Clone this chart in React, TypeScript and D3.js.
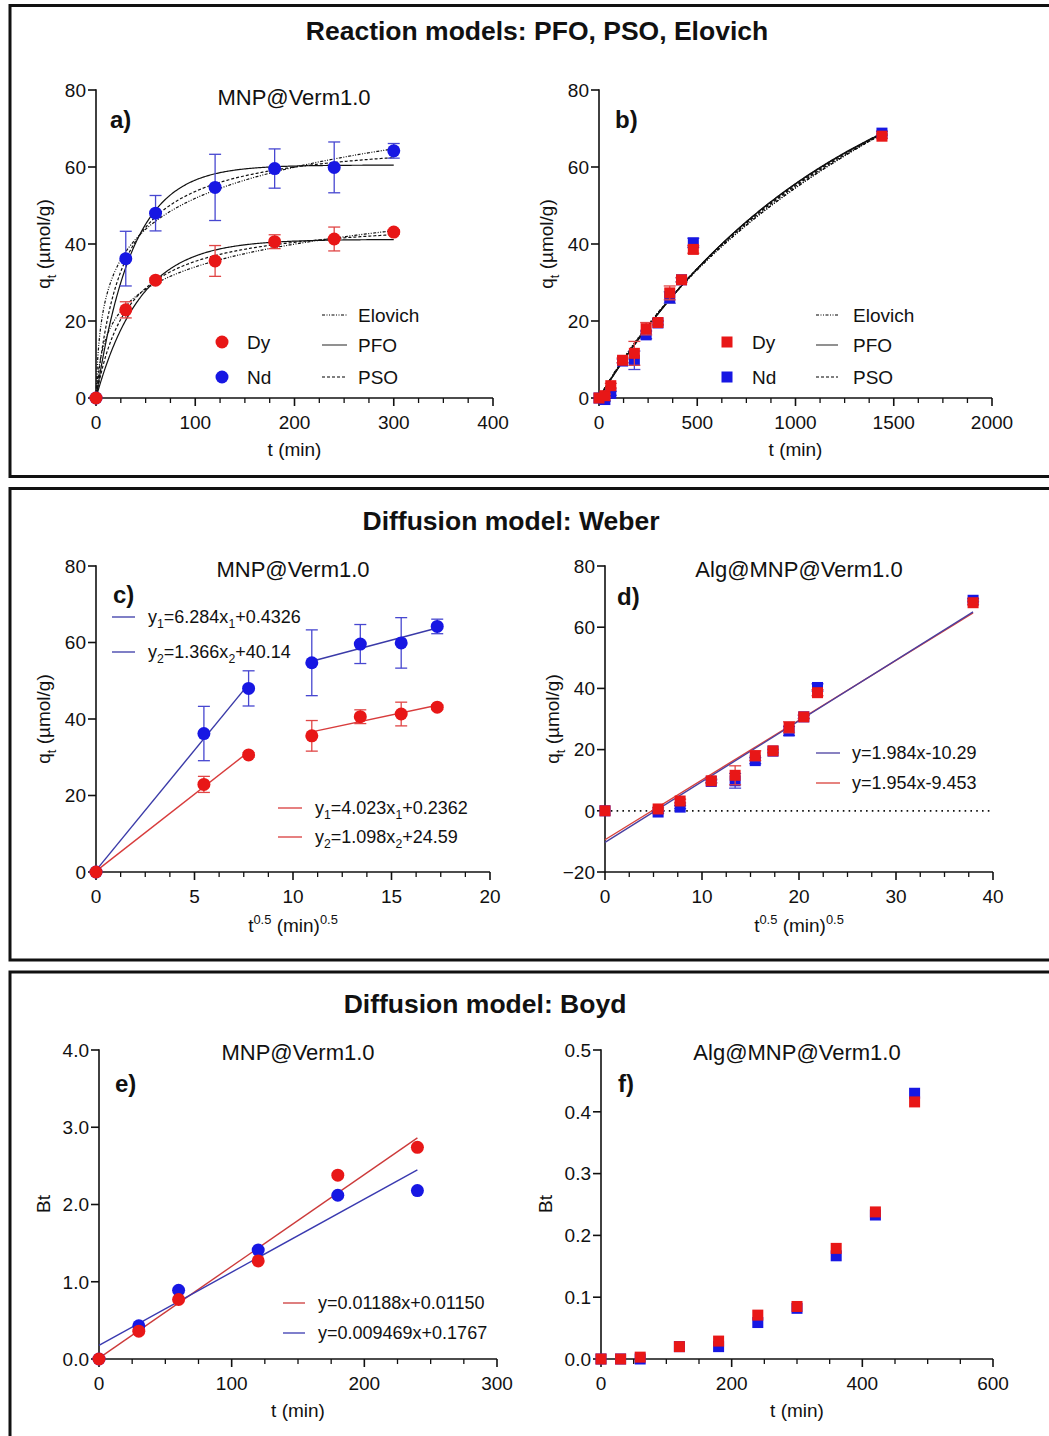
import { useEffect, useRef } from "react";
import * as d3 from "d3";

const FONT = "'Liberation Sans', Arial, Helvetica, sans-serif";
const RED = "#e81717";
const BLUE = "#1717e3";
const RED_ERR = "#e04545";
const BLUE_ERR = "#4747d0";

// ---- panel a / c : MNP@Verm1.0 kinetics
const tA = [0, 30, 60, 120, 180, 240, 300];
const sqrtTA = [0, 5.477, 7.746, 10.954, 13.416, 15.492, 17.321];
const dyA = [0, 22.9, 30.6, 35.6, 40.6, 41.3, 43.1];
const dyAErr = [0, 2.1, 0.6, 4.0, 1.8, 3.1, 0.6];
const ndA = [0, 36.2, 48.0, 54.7, 59.6, 59.9, 64.2];
const ndAErr = [0, 7.1, 4.6, 8.6, 5.1, 6.6, 1.9];

// ---- panel b / d : Alg@MNP@Verm1.0 kinetics
const tB = [0, 30, 60, 120, 180, 240, 300, 360, 420, 480, 1440];
const sqrtTB = [0, 5.477, 7.746, 10.954, 13.416, 15.492, 17.321, 18.974, 20.494, 21.909, 37.947];
const dyB = [0, 0.6, 3.2, 9.8, 11.6, 18.0, 19.6, 27.3, 30.7, 38.6, 68.0];
const dyBErr = [0, 0.4, 0.6, 0.6, 3.1, 1.6, 0.5, 1.8, 0.6, 1.0, 0.6];
const ndB = [0, -0.4, 1.2, 9.6, 9.8, 16.4, 19.5, 26.1, 30.7, 40.3, 68.8];
const ndBErr = [0, 0.4, 0.5, 0.5, 2.4, 1.0, 0.5, 1.5, 0.5, 1.2, 0.5];

// ---- panel e / f : Boyd
const tE = [0, 30, 60, 120, 180, 240];
const dyE = [0, 0.36, 0.77, 1.27, 2.38, 2.74];
const ndE = [0, 0.43, 0.89, 1.41, 2.12, 2.18];
const tF = [0, 30, 60, 120, 180, 240, 300, 360, 420, 480];
const dyF = [0, 0, 0.003, 0.02, 0.029, 0.071, 0.085, 0.179, 0.238, 0.416];
const ndF = [0, 0, 0, 0.02, 0.02, 0.059, 0.082, 0.167, 0.233, 0.43];

// fitted model parameters
const pfoA = { dy: [41.2, 0.0225], nd: [60.5, 0.0274] };
const psoA = { dy: [47, 0.000656], nd: [68, 0.00055] };
const eloA = { dy: [8.66, 0.5], nd: [11.8, 0.8] };
const pfoB = { dy: [97.3, 0.000847], nd: [98, 0.00084] };
const psoB = { dy: [154, 3.61e-6], nd: [155, 3.58e-6] };
const eloB = { dy: [59.6, 0.0015], nd: [59.8, 0.00149] };

// Weber / Boyd linear fits [slope, intercept, xFrom, xTo]
const weberC = {
  nd: [[6.284, 0.4326, 0, 7.746], [1.366, 40.14, 10.954, 17.321]],
  dy: [[4.023, 0.2362, 0, 7.746], [1.098, 24.59, 10.954, 17.321]],
};
const weberD = { nd: [1.984, -10.29, 0, 37.947], dy: [1.954, -9.453, 0, 37.947] };
const boydE = { dy: [0.01188, 0.0115, 0, 240], nd: [0.009469, 0.1767, 0, 240] };

const sectionTitles = ["Reaction models: PFO, PSO, Elovich", "Diffusion model: Weber", "Diffusion model: Boyd"];

const pfo = (p: number[]) => (t: number) => p[0] * (1 - Math.exp(-p[1] * t));
const pso = (p: number[]) => (t: number) => (p[0] * p[0] * p[1] * t) / (1 + p[0] * p[1] * t);
const elo = (p: number[]) => (t: number) => p[0] * Math.log(1 + p[1] * t);

type Sel = d3.Selection<SVGGElement, unknown, null, undefined>;

const TICK = 19;
const AXT = 19;
const SUB = 22;
const LEG = 19;
const EQ = 18;

function txt(g: Sel, x: number, y: number, s: string, size: number, anchor = "start", weight = "normal") {
  return g.append("text").attr("x", x).attr("y", y).attr("font-family", FONT)
    .attr("font-size", size).attr("text-anchor", anchor).attr("font-weight", weight)
    .attr("fill", "#111").text(s);
}

// parts: [text, 0 normal | 1 sub | 2 sup]
function rich(g: Sel, x: number, y: number, parts: [string, number][], size: number, anchor = "start") {
  const t = g.append("text").attr("x", x).attr("y", y).attr("font-family", FONT)
    .attr("font-size", size).attr("text-anchor", anchor).attr("fill", "#111");
  let shift = 0;
  parts.forEach(([s, k]) => {
    const target = k === 1 ? size * 0.3 : k === 2 ? -size * 0.42 : 0;
    t.append("tspan").attr("dy", target - shift).attr("font-size", k ? size * 0.68 : size).text(s);
    shift = target;
  });
  return t;
}

function axes(g: Sel, o: {
  x0: number; x1: number; yTop: number; yBot: number;
  xd: number[]; yd: number[]; xStep: number; yStep: number; yFmt: (v: number) => string;
}) {
  const x = d3.scaleLinear().domain(o.xd).range([o.x0, o.x1]);
  const y = d3.scaleLinear().domain(o.yd).range([o.yBot, o.yTop]);
  const ax = g.append("g").attr("stroke", "#111").attr("stroke-width", 1.6);
  ax.append("line").attr("x1", o.x0).attr("x2", o.x1).attr("y1", o.yBot).attr("y2", o.yBot);
  ax.append("line").attr("x1", o.x0).attr("x2", o.x0).attr("y1", o.yTop).attr("y2", o.yBot).attr("stroke-linecap", "square");
  const minor = o.xStep / 4;
  d3.range(o.xd[0], o.xd[1] + minor / 2, minor).forEach((v, i) => {
    const major = i % 4 === 0;
    ax.append("line").attr("x1", x(v)).attr("x2", x(v)).attr("y1", o.yBot).attr("y2", o.yBot + (major ? 8 : 5))
      .attr("stroke-width", major ? 1.6 : 1.3);
    if (major) txt(g, x(v), o.yBot + 30.5, d3.format("d")(v), TICK, "middle");
  });
  d3.range(o.yd[0], o.yd[1] + o.yStep / 2, o.yStep).forEach((v) => {
    ax.append("line").attr("x1", o.x0 - 8).attr("x2", o.x0).attr("y1", y(v)).attr("y2", y(v));
    txt(g, o.x0 - 10, y(v) + 6.8, o.yFmt(v), TICK, "end");
  });
  return { x, y };
}

function errBars(g: Sel, x: any, y: any, xs: number[], vs: number[], es: number[], color: string) {
  xs.forEach((xv, i) => {
    if (es[i] <= 0) return;
    const cx = x(xv), lo = y(vs[i] - es[i]), hi = y(vs[i] + es[i]);
    const e = g.append("g").attr("stroke", color).attr("stroke-width", 1.3);
    e.append("line").attr("x1", cx).attr("x2", cx).attr("y1", lo).attr("y2", hi);
    e.append("line").attr("x1", cx - 6).attr("x2", cx + 6).attr("y1", lo).attr("y2", lo);
    e.append("line").attr("x1", cx - 6).attr("x2", cx + 6).attr("y1", hi).attr("y2", hi);
  });
}

function dots(g: Sel, x: any, y: any, xs: number[], vs: number[], color: string, square = false) {
  xs.forEach((xv, i) => {
    if (square) g.append("rect").attr("x", x(xv) - 5.5).attr("y", y(vs[i]) - 5.5).attr("width", 11).attr("height", 11).attr("fill", color);
    else g.append("circle").attr("cx", x(xv)).attr("cy", y(vs[i])).attr("r", 6.5).attr("fill", color);
  });
}

function curve(g: Sel, x: any, y: any, f: (t: number) => number, t0: number, t1: number, dash: string | null) {
  const pts = d3.range(t0, t1 + 0.001, (t1 - t0) / 300).map((t) => [t, f(t)] as [number, number]);
  g.append("path").attr("d", d3.line().x((d) => x(d[0])).y((d) => y(d[1]))(pts))
    .attr("fill", "none").attr("stroke", "#111").attr("stroke-width", 1.2)
    .attr("stroke-dasharray", dash);
}

function segment(g: Sel, x: any, y: any, p: number[], color: string, w = 1.4) {
  g.append("line").attr("x1", x(p[2])).attr("x2", x(p[3]))
    .attr("y1", y(p[0] * p[2] + p[1])).attr("y2", y(p[0] * p[3] + p[1]))
    .attr("stroke", color).attr("stroke-width", w);
}

function legLine(g: Sel, x1: number, x2: number, yy: number, color: string, dash: string | null = null) {
  g.append("line").attr("x1", x1).attr("x2", x2).attr("y1", yy).attr("y2", yy)
    .attr("stroke", color).attr("stroke-width", 1.3).attr("stroke-dasharray", dash);
}

const DASH_ELO = "3,1.5,1,1.5,1,1.5";
const DASH_PSO = "3,2";

function qTitle(g: Sel, x: number, y: number) {
  rich(g, 0, 0, [["q", 0], ["t", 1], [" (\u00b5mol/g)", 0]], AXT, "middle")
    .attr("transform", `translate(${x},${y}) rotate(-90)`);
}

function modelLegend(g: Sel, sx: number, tx: number, lx1: number, lx2: number, lt: number, square: boolean) {
  [["Dy", RED, 342], ["Nd", BLUE, 377]].forEach(([n, c, yy]: any) => {
    if (square) g.append("rect").attr("x", sx - 5.5).attr("y", yy - 5.5).attr("width", 11).attr("height", 11).attr("fill", c);
    else g.append("circle").attr("cx", sx).attr("cy", yy).attr("r", 6.5).attr("fill", c);
    txt(g, tx, yy + 7, n, LEG);
  });
  [["Elovich", DASH_ELO, 315], ["PFO", null, 345], ["PSO", DASH_PSO, 377]].forEach(([n, d, yy]: any) => {
    legLine(g, lx1, lx2, yy, "#555", d);
    txt(g, lt, yy + 7, n, LEG);
  });
}

function draw(svg: d3.Selection<SVGSVGElement, unknown, null, undefined>) {
  svg.selectAll("*").remove();
  const root = svg.append("g") as unknown as Sel;

  // section frames
  [[5.5, 476.5], [488.5, 960], [972, 1470]].forEach(([a, b]) => {
    root.append("rect").attr("x", 10).attr("y", a).attr("width", 1060).attr("height", b - a)
      .attr("fill", "none").attr("stroke", "#111").attr("stroke-width", 3);
  });
  txt(root, 537, 40, sectionTitles[0], 26.5, "middle", "bold");
  txt(root, 511, 530, sectionTitles[1], 26.5, "middle", "bold");
  txt(root, 485, 1013, sectionTitles[2], 26.5, "middle", "bold");

  const f0 = (v: number) => d3.format("d")(v);
  const f1 = (v: number) => d3.format(".1f")(v);

  // ---------- a)
  {
    const g = root.append("g") as unknown as Sel;
    const { x, y } = axes(g, { x0: 96, x1: 493, yTop: 90, yBot: 398, xd: [0, 400], yd: [0, 80], xStep: 100, yStep: 20, yFmt: f0 });
    (["nd", "dy"] as const).forEach((k) => {
      curve(g, x, y, elo(eloA[k]), 0, 300, DASH_ELO);
      curve(g, x, y, pfo(pfoA[k]), 0, 300, null);
      curve(g, x, y, pso(psoA[k]), 0, 300, DASH_PSO);
    });
    errBars(g, x, y, tA, ndA, ndAErr, BLUE_ERR);
    dots(g, x, y, tA, ndA, BLUE);
    errBars(g, x, y, tA, dyA, dyAErr, RED_ERR);
    dots(g, x, y, tA, dyA, RED);
    txt(g, 294, 105, "MNP@Verm1.0", SUB, "middle");
    txt(g, 110, 128, "a)", 24, "start", "bold");
    txt(g, 294.5, 456, "t (min)", AXT, "middle");
    qTitle(g, 50, 244);
    modelLegend(g, 222, 247, 322, 347, 358, false);
  }

  // ---------- b)
  {
    const g = root.append("g") as unknown as Sel;
    const { x, y } = axes(g, { x0: 599, x1: 992, yTop: 90, yBot: 398, xd: [0, 2000], yd: [0, 80], xStep: 500, yStep: 20, yFmt: f0 });
    (["nd", "dy"] as const).forEach((k) => {
      curve(g, x, y, elo(eloB[k]), 0, 1440, DASH_ELO);
      curve(g, x, y, pfo(pfoB[k]), 0, 1440, null);
      curve(g, x, y, pso(psoB[k]), 0, 1440, DASH_PSO);
    });
    errBars(g, x, y, tB, ndB, ndBErr, BLUE_ERR);
    dots(g, x, y, tB, ndB, BLUE, true);
    errBars(g, x, y, tB, dyB, dyBErr, RED_ERR);
    dots(g, x, y, tB, dyB, RED, true);
    txt(g, 615, 128, "b)", 24, "start", "bold");
    txt(g, 795.5, 456, "t (min)", AXT, "middle");
    qTitle(g, 553, 244);
    modelLegend(g, 727, 752, 816, 838, 853, true);
  }

  // ---------- c)
  {
    const g = root.append("g") as unknown as Sel;
    const { x, y } = axes(g, { x0: 96, x1: 490, yTop: 566, yBot: 872, xd: [0, 20], yd: [0, 80], xStep: 5, yStep: 20, yFmt: f0 });
    weberC.nd.forEach((p) => segment(g, x, y, p, "#3a3aa8"));
    weberC.dy.forEach((p) => segment(g, x, y, p, "#d83c3c"));
    errBars(g, x, y, sqrtTA, ndA, ndAErr, BLUE_ERR);
    dots(g, x, y, sqrtTA, ndA, BLUE);
    errBars(g, x, y, sqrtTA, dyA, dyAErr, RED_ERR);
    dots(g, x, y, sqrtTA, dyA, RED);
    txt(g, 293, 577, "MNP@Verm1.0", SUB, "middle");
    txt(g, 113, 603, "c)", 24, "start", "bold");
    rich(g, 293, 932, [["t", 0], ["0.5", 2], [" (min)", 0], ["0.5", 2]], AXT, "middle");
    qTitle(g, 50, 719);
    legLine(g, 112, 135, 617, "#3a3aa8");
    rich(g, 148, 623, [["y", 0], ["1", 1], ["=6.284x", 0], ["1", 1], ["+0.4326", 0]], EQ);
    legLine(g, 112, 135, 652, "#3a3aa8");
    rich(g, 148, 658, [["y", 0], ["2", 1], ["=1.366x", 0], ["2", 1], ["+40.14", 0]], EQ);
    legLine(g, 278, 302, 808, "#d83c3c");
    rich(g, 315, 814, [["y", 0], ["1", 1], ["=4.023x", 0], ["1", 1], ["+0.2362", 0]], EQ);
    legLine(g, 278, 302, 837, "#d83c3c");
    rich(g, 315, 843, [["y", 0], ["2", 1], ["=1.098x", 0], ["2", 1], ["+24.59", 0]], EQ);
  }

  // ---------- d)
  {
    const g = root.append("g") as unknown as Sel;
    const { x, y } = axes(g, { x0: 605, x1: 993, yTop: 566, yBot: 872, xd: [0, 40], yd: [-20, 80], xStep: 10, yStep: 20, yFmt: f0 });
    g.append("line").attr("x1", x(0)).attr("x2", x(40)).attr("y1", y(0)).attr("y2", y(0))
      .attr("stroke", "#111").attr("stroke-width", 1.8).attr("stroke-dasharray", "1.6,4.2");
    segment(g, x, y, weberD.dy, "#d8403a");
    segment(g, x, y, weberD.nd, "#4a3fa0");
    errBars(g, x, y, sqrtTB, ndB, ndBErr, BLUE_ERR);
    dots(g, x, y, sqrtTB, ndB, BLUE, true);
    errBars(g, x, y, sqrtTB, dyB, dyBErr, RED_ERR);
    dots(g, x, y, sqrtTB, dyB, RED, true);
    txt(g, 799, 577, "Alg@MNP@Verm1.0", SUB, "middle");
    txt(g, 617, 605, "d)", 24, "start", "bold");
    rich(g, 799, 932, [["t", 0], ["0.5", 2], [" (min)", 0], ["0.5", 2]], AXT, "middle");
    qTitle(g, 559, 719);
    legLine(g, 816, 840, 753, "#4a3fa0");
    txt(g, 852, 759, "y=1.984x-10.29", EQ);
    legLine(g, 816, 840, 783, "#d8403a");
    txt(g, 852, 789, "y=1.954x-9.453", EQ);
  }

  // ---------- e)
  {
    const g = root.append("g") as unknown as Sel;
    const { x, y } = axes(g, { x0: 99, x1: 497, yTop: 1050, yBot: 1359, xd: [0, 300], yd: [0, 4], xStep: 100, yStep: 1, yFmt: f1 });
    segment(g, x, y, boydE.dy, "#cc3a3a");
    segment(g, x, y, boydE.nd, "#3a3ab0");
    dots(g, x, y, tE, ndE, BLUE);
    dots(g, x, y, tE, dyE, RED);
    txt(g, 298, 1060, "MNP@Verm1.0", SUB, "middle");
    txt(g, 115, 1092, "e)", 24, "start", "bold");
    txt(g, 298, 1417, "t (min)", AXT, "middle");
    txt(g, 0, 0, "Bt", AXT, "middle").attr("transform", `translate(50,1204) rotate(-90)`);
    legLine(g, 283, 305, 1303, "#cc3a3a");
    txt(g, 318, 1309, "y=0.01188x+0.01150", EQ);
    legLine(g, 283, 305, 1333, "#3a3ab0");
    txt(g, 318, 1339, "y=0.009469x+0.1767", EQ);
  }

  // ---------- f)
  {
    const g = root.append("g") as unknown as Sel;
    const { x, y } = axes(g, { x0: 601, x1: 993, yTop: 1050, yBot: 1359, xd: [0, 600], yd: [0, 0.5], xStep: 200, yStep: 0.1, yFmt: f1 });
    dots(g, x, y, tF, ndF, BLUE, true);
    dots(g, x, y, tF, dyF, RED, true);
    txt(g, 797, 1060, "Alg@MNP@Verm1.0", SUB, "middle");
    txt(g, 618, 1092, "f)", 24, "start", "bold");
    txt(g, 797, 1417, "t (min)", AXT, "middle");
    txt(g, 0, 0, "Bt", AXT, "middle").attr("transform", `translate(552,1204) rotate(-90)`);
  }
}

export default function App() {
  const ref = useRef<SVGSVGElement>(null);
  useEffect(() => {
    if (ref.current) draw(d3.select(ref.current));
  }, []);
  return (
    <svg ref={ref} width={1049} height={1436}
      style={{ position: "absolute", left: 0, top: 0, background: "#fff", display: "block" }} />
  );
}
